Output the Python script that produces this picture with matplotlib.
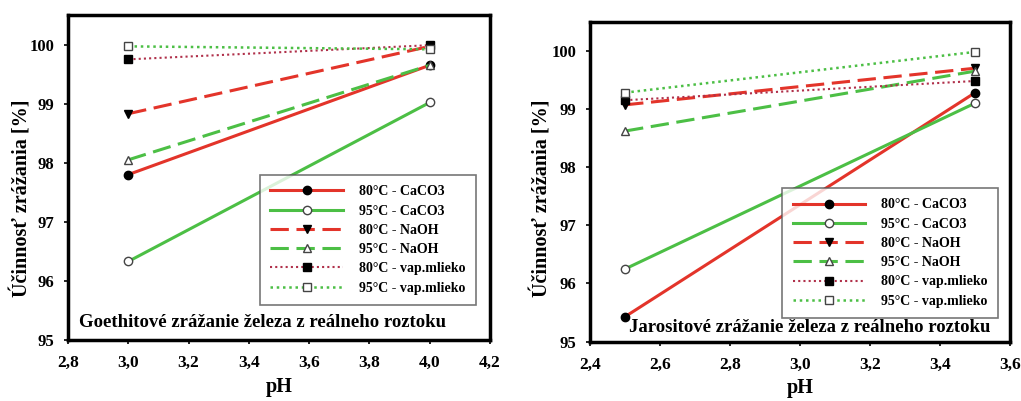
import matplotlib
matplotlib.use("Agg")
import matplotlib.pyplot as plt

plt.rcParams['font.family'] = ['Liberation Serif', 'DejaVu Serif']
plt.rcParams['font.weight'] = 'bold'

labels = ['80°C - CaCO3', '95°C - CaCO3', '80°C - NaOH', '95°C - NaOH',
          '80°C - vap.mlieko', '95°C - vap.mlieko']

# Goethite panel
x_goe = [3.0, 4.0]
goe_80_caco3 = [97.80, 99.65]
goe_95_caco3 = [96.33, 99.02]
goe_80_naoh = [98.83, 99.97]
goe_95_naoh = [98.05, 99.65]
goe_80_vap = [99.75, 99.99]
goe_95_vap = [99.97, 99.92]

# Jarosite panel
x_jar = [2.5, 3.5]
jar_80_caco3 = [95.43, 99.28]
jar_95_caco3 = [96.25, 99.10]
jar_80_naoh = [99.07, 99.70]
jar_95_naoh = [98.62, 99.65]
jar_80_vap = [99.15, 99.48]
jar_95_vap = [99.28, 99.98]

goe_xticks = [2.8, 3.0, 3.2, 3.4, 3.6, 3.8, 4.0, 4.2]
jar_xticks = [2.4, 2.6, 2.8, 3.0, 3.2, 3.4, 3.6]
yticks = [95, 96, 97, 98, 99, 100]

RED = '#e3342a'
GREEN = '#4cbf45'
MAROON = '#b0304a'

styles = [
    dict(color=RED, ls='-', marker='o', mfc='black', mec='black'),
    dict(color=GREEN, ls='-', marker='o', mfc='white', mec='#444444'),
    dict(color=RED, ls=(0, (6, 2.5)), marker='v', mfc='black', mec='black'),
    dict(color=GREEN, ls=(0, (6, 2.5)), marker='^', mfc='white', mec='#444444'),
    dict(color=MAROON, ls=(0, (1, 1.5)), marker='s', mfc='black', mec='black'),
    dict(color=GREEN, ls=(0, (1, 1.5)), marker='s', mfc='white', mec='#444444'),
]
lws = [2.2, 2.2, 2.2, 2.2, 1.5, 1.8]

fig = plt.figure(figsize=(10.21, 4.01), dpi=100)
ax1 = fig.add_axes([0.0666, 0.152, 0.4133, 0.8105])
ax2 = fig.add_axes([0.578, 0.148, 0.4114, 0.798])


def draw(ax, x, series, xticks, xlim, title, tpos, legpos, ylab_pos):
    for s, st, lw, lab in zip(series, styles, lws, labels):
        ax.plot(x, s, lw=lw, ms=6, mew=1.0, label=lab, **st)
    ax.set_xlim(*xlim)
    ax.set_ylim(95, 100.5)
    ax.set_xticks(xticks)
    ax.set_xticklabels([f"{t:.1f}".replace('.', ',') for t in xticks])
    ax.set_yticks(yticks)
    ax.tick_params(direction='out', length=3, width=1.2)
    ax.tick_params(axis='x', pad=8, labelsize=12.5)
    ax.tick_params(axis='y', pad=7, labelsize=12)
    for lab in ax.get_xticklabels() + ax.get_yticklabels():
        lab.set_fontweight('bold')
    for sp in ax.spines.values():
        sp.set_linewidth(2.5)
    ax.set_xlabel('pH', fontsize=14.5, fontweight='bold', labelpad=4)
    ax.set_ylabel('Účinnosť zrážania [%]', fontsize=14.5, fontweight='bold')
    ax.yaxis.set_label_coords(*ylab_pos)
    ax.text(tpos[0], tpos[1], title, transform=ax.transAxes, fontsize=13.5,
            fontweight='bold', ha='left', va='center')
    leg = ax.legend(loc='upper left', bbox_to_anchor=legpos, handlelength=5.2,
                    frameon=True, fancybox=False, borderpad=0.75, borderaxespad=0,
                    labelspacing=0.45, handletextpad=1.2,
                    prop={'weight': 'bold', 'size': 10})
    leg.get_frame().set_edgecolor('#555555')
    leg.get_frame().set_linewidth(1.2)


draw(ax1, x_goe, [goe_80_caco3, goe_95_caco3, goe_80_naoh, goe_95_naoh, goe_80_vap, goe_95_vap],
     goe_xticks, (2.8, 4.2), 'Goethitové zrážanie železa z reálneho roztoku', (0.025, 0.053),
     (0.455, 0.508), (-0.085, 0.437))
draw(ax2, x_jar, [jar_80_caco3, jar_95_caco3, jar_80_naoh, jar_95_naoh, jar_80_vap, jar_95_vap],
     jar_xticks, (2.4, 3.6), 'Jarositové zrážanie železa z reálneho roztoku', (0.093, 0.043),
     (0.457, 0.48), (-0.09, 0.449))

fig.savefig('out.png', dpi=100)
